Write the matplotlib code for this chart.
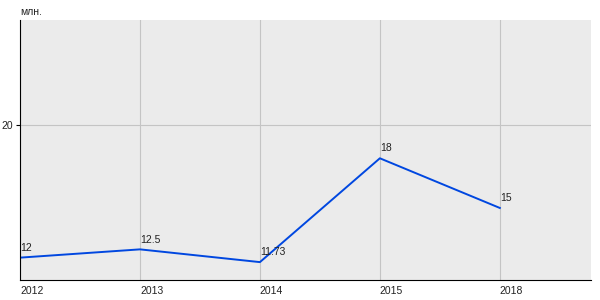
import matplotlib.pyplot as plt

# Données du graphique
years = ['2012', '2013', '2014', '2015', '2018']
values = [12, 12.5, 11.73, 18, 15]
value_labels = ['12', '12.5', '11.73', '18', '15']

plt.rcParams['font.family'] = ['Liberation Sans', 'DejaVu Sans']

fig = plt.figure(figsize=(6, 3), dpi=100)
ax = fig.add_axes([20 / 600, 20 / 300, 571 / 600, 260 / 300])
ax.set_facecolor('#ebebeb')

x = list(range(len(years)))
ax.plot(x, values, color='#0047e0', linewidth=1.4)

# Étiquettes des valeurs
for xi, v, lab in zip(x, values, value_labels):
    ax.annotate(lab, (xi, v), xytext=(0, 3.5), textcoords='offset points',
                ha='left', va='bottom', fontsize=7.5, color='#222222')

ax.set_xlim(0, 4.76)
ax.set_ylim(10.65, 26.35)
ax.set_xticks(x)
ax.set_xticklabels(years, ha='left', fontsize=7.5, color='#222222')
ax.set_yticks([20])
ax.set_yticklabels(['20'], fontsize=7.5, color='#222222')
ax.tick_params(axis='x', length=0, pad=4)
ax.tick_params(axis='y', length=3, pad=2)

ax.grid(True, color='#c4c4c4', linewidth=0.8)
ax.set_axisbelow(True)
for side in ['top', 'right']:
    ax.spines[side].set_visible(False)
ax.spines['left'].set_color('black')
ax.spines['bottom'].set_color('black')

fig.text(20 / 600, 1 - 12 / 300, 'млн.', fontsize=7.5, color='#222222', ha='left', va='center')

plt.savefig('out.png')
